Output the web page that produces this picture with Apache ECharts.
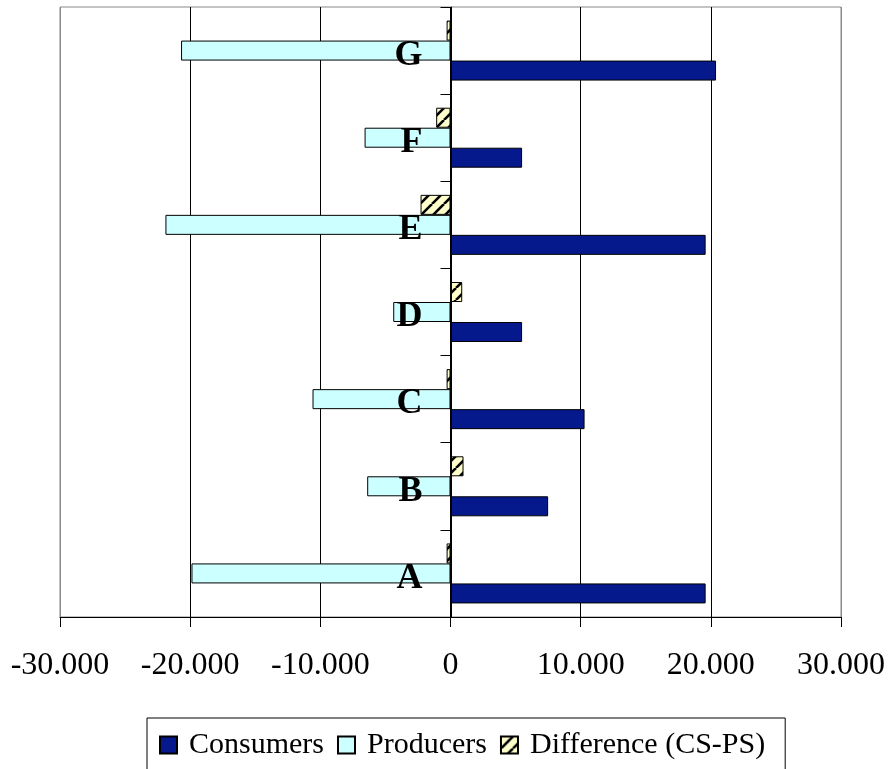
<!DOCTYPE html>
<html>
<head>
<meta charset="utf-8">
<script src="https://cdn.jsdelivr.net/npm/echarts@6/dist/echarts.min.js"></script>
<style>
  html, body { margin: 0; padding: 0; background: #fff; }
  #chart { width: 888px; height: 769px; }
</style>
</head>
<body>
<div id="chart"></div>
<script>
// Categories, bottom to top
const categories = ['A', 'B', 'C', 'D', 'E', 'F', 'G'];

// Surplus values per category
const consumers  = [19600, 7500, 10300, 5500, 19600, 5500, 20400];
const producers  = [-19900, -6400, -10600, -4400, -21900, -6600, -20700];
const difference = [-300, 1000, -300, 900, -2300, -1100, -300];

// X axis range and step
const xMin = -30000, xMax = 30000, xStep = 10000;

const serif = "'Liberation Serif', 'Times New Roman', serif";

// Plot area
const gridLeft = 60, gridRight = 45, chartWidth = 888;
const zeroOffset = (chartWidth - gridLeft - gridRight) / 2;

// Hatched fill for the difference bars
function hatch() {
  const s = 12;
  const c = document.createElement('canvas');
  c.width = s; c.height = s;
  const g = c.getContext('2d');
  g.fillStyle = '#FFFFCC';
  g.fillRect(0, 0, s, s);
  g.strokeStyle = '#000';
  g.lineWidth = 2.6;
  [-s, 0, s].forEach(o => {
    g.beginPath();
    g.moveTo(o, s);
    g.lineTo(o + s, 0);
    g.stroke();
  });
  return { image: c, repeat: 'repeat' };
}

function fmt(v) {
  if (v === 0) return '0';
  const sign = v < 0 ? '-' : '';
  const a = Math.abs(v);
  const k = Math.floor(a / 1000);
  const r = String(a % 1000).padStart(3, '0');
  return sign + k + '.' + r;
}

const chart = echarts.init(document.getElementById('chart'), null, { renderer: 'canvas' });

const barBase = { type: 'bar', barWidth: 20, barGap: '0%', animation: false };

chart.setOption({
  animation: false,
  grid: {
    left: gridLeft, right: gridRight, top: 7, bottom: 152,
    show: true, borderColor: '#888', borderWidth: 1, backgroundColor: '#fff'
  },
  xAxis: {
    type: 'value',
    min: xMin, max: xMax, interval: xStep,
    axisLine: { show: true, lineStyle: { color: '#000', width: 1 } },
    axisTick: { show: true, length: 10, lineStyle: { color: '#000' } },
    splitLine: { show: true, lineStyle: { color: ['#888', '#000', '#000', '#000', '#000', '#000', '#888'], width: 1 } },
    axisLabel: {
      formatter: fmt, color: '#000', fontFamily: serif, fontSize: 32, margin: 33
    }
  },
  yAxis: {
    type: 'category',
    data: categories,
    position: 'left',
    offset: -zeroOffset,
    z: 10,
    axisLine: { show: true, onZero: false, lineStyle: { color: '#000', width: 1 } },
    axisTick: { show: true, length: 11, lineStyle: { color: '#000' } },
    splitLine: { show: false },
    axisLabel: {
      margin: 29,
      formatter: v => '{c|' + v + '}',
      rich: {
        c: {
          color: '#000', fontFamily: serif, fontSize: 36, fontWeight: 'bold',
          padding: [10, 0, 0, 0]
        }
      }
    }
  },
  legend: {
    left: 147, top: 718,
    padding: [12, 20, 30, 12],
    borderColor: '#000', borderWidth: 1,
    itemWidth: 17, itemHeight: 17, itemGap: 13,
    icon: 'rect',
    textStyle: { color: '#000', fontFamily: serif, fontSize: 30, padding: [0, 0, 0, 7] },
    data: ['Consumers', 'Producers', 'Difference (CS-PS)']
  },
  // Listed top-down within each category band
  series: [
    Object.assign({}, barBase, {
      name: 'Difference (CS-PS)', data: difference,
      itemStyle: { color: hatch(), borderColor: '#000', borderWidth: 1 }
    }),
    Object.assign({}, barBase, {
      name: 'Producers', data: producers,
      itemStyle: { color: '#CCFFFF', borderColor: '#000', borderWidth: 1 }
    }),
    Object.assign({}, barBase, {
      name: 'Consumers', data: consumers,
      itemStyle: { color: '#06198C', borderColor: '#000', borderWidth: 1 }
    })
  ]
});
</script>
</body>
</html>
